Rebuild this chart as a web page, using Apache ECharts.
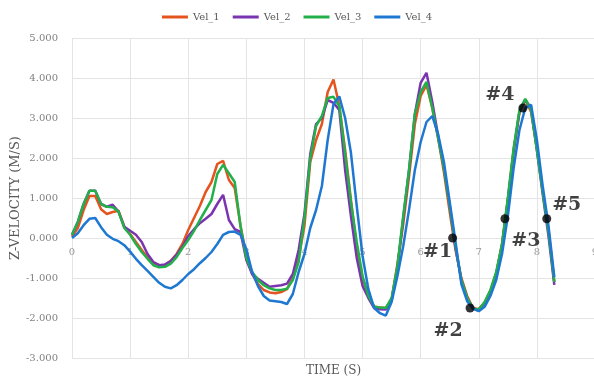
<!DOCTYPE html>
<html>
<head>
<meta charset="utf-8">
<script src="https://cdn.jsdelivr.net/npm/echarts@6/dist/echarts.min.js"></script>
<style>html,body{margin:0;padding:0;background:#fff}#c{width:594px;height:381px}</style>
</head>
<body>
<div id="c"></div>
<script>
const times = [0,0.1,0.2,0.3,0.4,0.5,0.6,0.7,0.8,0.9,1.0,1.1,1.2,1.3,1.4,1.5,1.6,1.7,1.8,1.9,2.0,2.1,2.2,2.3,2.4,2.5,2.6,2.7,2.8,2.9,3.0,3.1,3.2,3.3,3.4,3.5,3.6,3.7,3.8,3.9,4.0,4.1,4.2,4.3,4.4,4.5,4.6,4.7,4.8,4.9,5.0,5.1,5.2,5.3,5.4,5.5,5.6,5.7,5.8,5.9,6.0,6.1,6.2,6.3,6.4,6.5,6.6,6.7,6.8,6.9,7.0,7.1,7.2,7.3,7.4,7.5,7.6,7.7,7.8,7.9,8.0,8.1,8.2,8.3];
const vel1 = [0.03,0.25,0.70,1.05,1.05,0.72,0.60,0.65,0.68,0.28,0.10,-0.10,-0.30,-0.48,-0.62,-0.68,-0.68,-0.57,-0.40,-0.15,0.20,0.50,0.80,1.15,1.40,1.85,1.93,1.45,1.25,0.30,-0.45,-0.90,-1.15,-1.30,-1.36,-1.38,-1.35,-1.28,-1.00,-0.50,0.30,1.90,2.45,2.85,3.65,3.96,3.30,2.20,0.95,-0.25,-1.00,-1.45,-1.72,-1.74,-1.75,-1.54,-0.65,0.35,1.54,2.85,3.55,3.83,3.25,2.50,1.65,0.65,-0.30,-1.00,-1.45,-1.75,-1.78,-1.62,-1.35,-0.90,-0.15,0.95,2.15,3.15,3.45,3.15,2.25,1.20,0.20,-1.10];
const vel2 = [0.08,0.40,0.85,1.18,1.18,0.85,0.78,0.83,0.66,0.28,0.18,0.08,-0.10,-0.40,-0.60,-0.68,-0.66,-0.58,-0.42,-0.22,0.05,0.22,0.37,0.48,0.60,0.85,1.08,0.45,0.22,0.15,-0.55,-0.90,-1.02,-1.12,-1.22,-1.20,-1.18,-1.14,-0.90,-0.30,0.60,2.10,2.85,3.00,3.45,3.38,3.20,1.70,0.55,-0.50,-1.20,-1.50,-1.75,-1.78,-1.79,-1.55,-0.75,0.50,1.70,3.10,3.88,4.13,3.40,2.55,1.75,0.80,-0.25,-1.05,-1.50,-1.76,-1.79,-1.62,-1.32,-0.88,-0.18,0.95,2.20,3.15,3.46,3.25,2.20,1.10,0.05,-1.17];
const vel3 = [0.08,0.40,0.85,1.18,1.18,0.85,0.78,0.77,0.66,0.25,0.08,-0.15,-0.35,-0.52,-0.68,-0.73,-0.72,-0.64,-0.48,-0.25,-0.05,0.18,0.45,0.70,0.95,1.60,1.83,1.62,1.40,0.30,-0.50,-0.85,-1.05,-1.18,-1.26,-1.30,-1.30,-1.27,-1.05,-0.60,0.50,2.00,2.80,3.05,3.50,3.53,3.30,2.10,0.90,-0.10,-0.95,-1.45,-1.71,-1.74,-1.75,-1.50,-0.70,0.55,1.71,3.10,3.65,3.90,3.25,2.50,1.75,0.80,-0.20,-1.05,-1.50,-1.76,-1.79,-1.60,-1.30,-0.85,-0.15,1.00,2.25,3.20,3.48,3.20,2.20,1.15,0.15,-1.10];
const vel4 = [0.00,0.12,0.32,0.48,0.50,0.27,0.08,-0.02,-0.08,-0.18,-0.34,-0.52,-0.68,-0.82,-0.97,-1.12,-1.22,-1.26,-1.18,-1.05,-0.90,-0.78,-0.63,-0.50,-0.35,-0.15,0.08,0.15,0.16,0.08,-0.28,-0.85,-1.20,-1.45,-1.56,-1.58,-1.60,-1.65,-1.40,-0.85,-0.40,0.25,0.70,1.30,2.45,3.35,3.54,3.00,2.13,0.80,-0.45,-1.28,-1.75,-1.88,-1.94,-1.60,-0.95,-0.20,0.71,1.70,2.40,2.90,3.05,2.60,1.90,0.90,-0.10,-1.15,-1.58,-1.77,-1.83,-1.72,-1.45,-1.05,-0.40,0.55,1.75,2.70,3.25,3.33,2.45,1.30,0.30,-0.98];
const seriesNames = ['Vel_1','Vel_2','Vel_3','Vel_4'];
const markerLabels = ['#1','#2','#3','#4','#5'];
const markerTimes = [6.55,6.85,7.45,7.76,8.17];
const markerValues = [0.0,-1.75,0.48,3.25,0.48];
const xTicks = ['0','1','2','3','4','5','6','7','8','9'];
const yTicks = ['-3.000','-2.000','-1.000','0.000','1.000','2.000','3.000','4.000','5.000'];

const colors = ['#E5541E','#7A34B0','#22B04A','#1E78D2'];
const labelOffsets = [[-15,14],[-22,23],[21,22],[-23,-13],[20,-14]];
const font = 'DejaVu Serif';

const allVals = [vel1,vel2,vel3,vel4];
const lineSeries = seriesNames.map((n,i)=>({
  name:n, type:'line', showSymbol:false, symbol:'none',
  data: times.map((t,k)=>[t, allVals[i][k]]),
  lineStyle:{width:2.5,color:colors[i]}, itemStyle:{color:colors[i]},
  z: 2+i
}));
const markerSeries = {
  type:'scatter', symbolSize:9, itemStyle:{color:'#000'}, z:10,
  data: markerTimes.map((t,k)=>({value:[t,markerValues[k]], label:{show:true, formatter:markerLabels[k], offset:labelOffsets[k], position:'inside', fontFamily:font, fontWeight:'bold', fontSize:19, color:'#111'}}))
};

const chart = echarts.init(document.getElementById('c'), null, {renderer:'canvas'});
chart.setOption({
  animation:false,
  backgroundColor:'#fff',
  color:colors,
  legend:{
    top:7, left:'center', itemWidth:26, itemHeight:3, itemGap:13, icon:'rect',
    data: seriesNames,
    textStyle:{fontFamily:font, fontSize:10, color:'#595959'}
  },
  grid:{left:72, top:38, width:523, height:320, containLabel:false, outerBoundsMode:'none'},
  xAxis:{
    type:'value', min:0, max:9, interval:1, position:'bottom',
    name:'TIME (S)', nameLocation:'middle', nameGap:7, nameMoveOverlap:false,
    nameTextStyle:{fontFamily:font, fontSize:12, color:'#595959'},
    axisLine:{show:false, onZero:false}, axisTick:{show:false},
    axisLabel:{fontFamily:font, fontSize:10, color:'#9a9a9a', margin:-111, hideOverlap:false, formatter:(v)=>xTicks[Math.round(v)]},
    splitLine:{show:true, lineStyle:{color:'#e4e4e4', width:1}}
  },
  yAxis:{
    type:'value', min:-3, max:5, interval:1,
    name:'Z-VELOCITY (M/S)', nameLocation:'middle', nameGap:50, nameRotate:90, nameMoveOverlap:false,
    nameTextStyle:{fontFamily:font, fontSize:13, color:'#595959'},
    axisLine:{show:false}, axisTick:{show:false},
    axisLabel:{fontFamily:font, fontSize:10, color:'#808080', margin:14, formatter:(v)=>yTicks[Math.round(v)+3]},
    splitLine:{show:true, lineStyle:{color:'#e4e4e4', width:1}}
  },
  series: lineSeries.concat([markerSeries])
});
</script>
</body>
</html>
